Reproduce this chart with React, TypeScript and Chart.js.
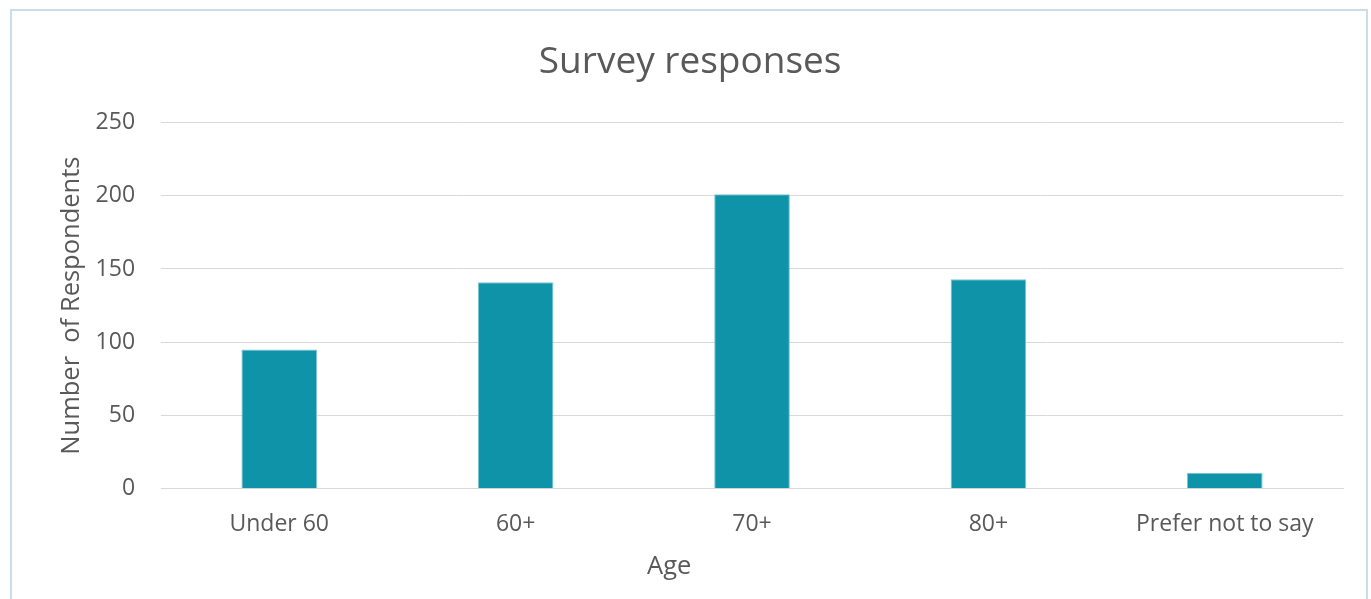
import React, { useEffect, useRef } from "react";
import { Chart, registerables } from "chart.js";

Chart.register(...registerables);

const categories = ["Under 60", "60+", "70+", "80+", "Prefer not to say"];
const respondents = [95, 141, 201, 143, 11];
const yTicks = [0, 50, 100, 150, 200, 250];

export default function App() {
  const ref = useRef<HTMLCanvasElement | null>(null);
  useEffect(() => {
    if (!ref.current) return;
    const font = "'Open Sans', sans-serif";
    const chart = new Chart(ref.current, {
      type: "bar",
      data: {
        labels: categories,
        datasets: [
          {
            label: "Respondents",
            data: respondents,
            backgroundColor: "#0e93a9",
            borderColor: "#7cc6d3",
            borderWidth: 1,
            barPercentage: 0.32,
            categoryPercentage: 1,
          },
        ],
      },
      options: {
        animation: false,
        responsive: true,
        maintainAspectRatio: false,
        layout: { padding: { left: 44.5, right: 23, top: 20, bottom: 24.5 } },
        plugins: {
          legend: { display: false },
          tooltip: { enabled: false },
          title: {
            display: true,
            text: "Survey responses" + "\u00a0\u00a0",
            color: "#595959",
            font: { family: font, size: 37, weight: "normal" },
            padding: { top: 9, bottom: 38 },
          },
        },
        scales: {
          x: {
            grid: { display: false, drawTicks: false },
            border: { display: true, color: "#d9d9d9", width: 1 },
            ticks: {
              color: "#595959",
              font: { family: font, size: 23 },
              padding: 22,
              maxRotation: 0,
            },
            title: {
              display: true,
              text: "Age" + "\u00a0".repeat(25),
              color: "#595959",
              font: { family: font, size: 25.5 },
              padding: { top: -8.5, bottom: 0 },
            },
          },
          y: {
            min: 0,
            max: 250,
            afterBuildTicks: (axis: any) => {
              axis.ticks = yTicks.map((v) => ({ value: v }));
            },
            grid: { color: "#d9d9d9", drawTicks: false, lineWidth: 1 },
            border: { display: false },
            ticks: {
              color: "#595959",
              font: { family: font, size: 23 },
              padding: 26,
            },
            title: {
              display: true,
              text: "Number  of Respondents",
              color: "#595959",
              font: { family: font, size: 25.5 },
              padding: { top: 0, bottom: -17.5 },
            },
          },
        },
      },
    });
    return () => chart.destroy();
  }, []);
  return (
    <div
      style={{
        position: "fixed",
        left: 10,
        top: 9,
        width: 1358,
        height: 600,
        border: "2px solid #c8dee8",
        boxSizing: "border-box",
        background: "#fff",
      }}
    >
      <canvas ref={ref} />
    </div>
  );
}
